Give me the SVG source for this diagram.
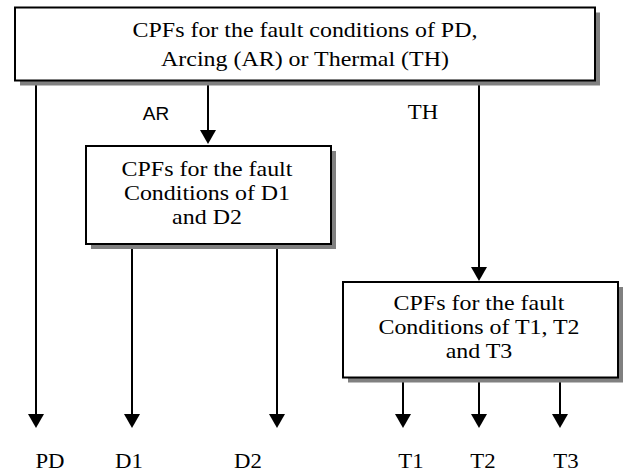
<svg xmlns="http://www.w3.org/2000/svg" width="633" height="472" viewBox="0 0 633 472">
  <defs>
    <marker id="arrow" markerUnits="userSpaceOnUse" markerWidth="14" markerHeight="16" viewBox="0 0 14 16" refX="1" refY="8" orient="auto">
      <path d="M0,0 L14,8 L0,16 Z" fill="#000"/>
    </marker>
    <style>
      .box { fill: #fff; stroke: #000; stroke-width: 2; }
      .shadow { fill: #808080; }
      .conn { stroke: #000; stroke-width: 2; fill: none; marker-end: url(#arrow); }
      .t { font-family: "Liberation Serif", "Times New Roman", serif; font-size: 21px; fill: #000; text-anchor: middle; }
      .lbl { font-family: "Liberation Serif", "Times New Roman", serif; font-size: 20px; fill: #000; text-anchor: middle; }
      .sans { font-family: "Liberation Sans", Arial, sans-serif; font-size: 19px; fill: #000; text-anchor: middle; }
    </style>
  </defs>
  <rect width="633" height="472" fill="#fff"/>

  <g id="connectors">
    <line class="conn" x1="36" y1="81" x2="36" y2="415"/>
    <line class="conn" x1="208" y1="81" x2="208" y2="131"/>
    <line class="conn" x1="479" y1="81" x2="479" y2="268"/>
    <line class="conn" x1="132" y1="244" x2="132" y2="415"/>
    <line class="conn" x1="277" y1="244" x2="277" y2="415"/>
    <line class="conn" x1="403" y1="377" x2="403" y2="415"/>
    <line class="conn" x1="479" y1="377" x2="479" y2="415"/>
    <line class="conn" x1="560" y1="377" x2="560" y2="415"/>
  </g>

  <g id="node-top">
    <rect class="shadow" x="20" y="12.5" width="580" height="73"/>
    <rect class="box" x="15" y="7.5" width="580" height="73"/>
    <text class="t" transform="translate(305,37) scale(1.14,1)">CPFs for the fault conditions of PD,</text>
    <text class="t" transform="translate(305,66) scale(1.14,1)">Arcing (AR) or Thermal (TH)</text>
  </g>

  <g id="node-d">
    <rect class="shadow" x="91" y="151" width="245" height="98"/>
    <rect class="box" x="86" y="146" width="245" height="98"/>
    <text class="t" transform="translate(207,176) scale(1.14,1)">CPFs for the fault</text>
    <text class="t" transform="translate(207,200) scale(1.14,1)">Conditions of D1</text>
    <text class="t" transform="translate(207,224) scale(1.14,1)">and D2</text>
  </g>

  <g id="node-t">
    <rect class="shadow" x="348" y="287" width="275" height="95.5"/>
    <rect class="box" x="343" y="282" width="275" height="95.5"/>
    <text class="t" transform="translate(479,310) scale(1.14,1)">CPFs for the fault</text>
    <text class="t" transform="translate(479,334) scale(1.14,1)">Conditions of T1, T2</text>
    <text class="t" transform="translate(479,358) scale(1.14,1)">and T3</text>
  </g>

  <g id="edge-labels">
    <text class="sans" x="156" y="120">AR</text>
    <text class="lbl" transform="translate(423,119) scale(1.14,1)">TH</text>
  </g>

  <g id="leaf-labels">
    <text class="lbl" transform="translate(50,468) scale(1.14,1)">PD</text>
    <text class="lbl" transform="translate(129,468) scale(1.14,1)">D1</text>
    <text class="lbl" transform="translate(248,468) scale(1.14,1)">D2</text>
    <text class="lbl" transform="translate(411,468) scale(1.14,1)">T1</text>
    <text class="lbl" transform="translate(483,468) scale(1.14,1)">T2</text>
    <text class="lbl" transform="translate(566,468) scale(1.14,1)">T3</text>
  </g>
</svg>
